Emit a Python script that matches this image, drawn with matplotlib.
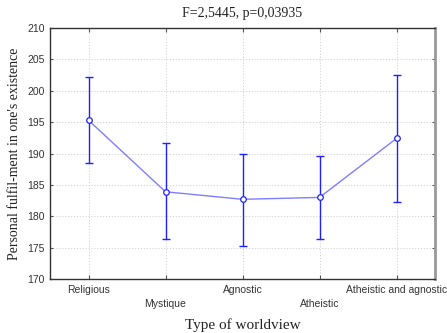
import matplotlib
matplotlib.use("Agg")
import matplotlib.pyplot as plt
import numpy as np

categories = ["Religious", "Mystique", "Agnostic", "Atheistic", "Atheistic and agnostic"]
means = [195.3, 183.9, 182.7, 183.0, 192.4]
upper = [202.2, 191.7, 190.0, 189.6, 202.5]
lower = [188.5, 176.3, 175.2, 176.4, 182.2]
y_ticks = [170, 175, 180, 185, 190, 195, 200, 205, 210]

fig = plt.figure(figsize=(4.47, 3.33), dpi=100)
ax = fig.add_axes([50 / 447, 54 / 333, 385 / 447, 251 / 333])

x = np.arange(len(categories))
means_a = np.array(means)
err = np.vstack([means_a - np.array(lower), np.array(upper) - means_a])

ax.plot(x, means_a, color="#7f7fff", lw=1.0, zorder=3)
ax.errorbar(x, means_a, yerr=err, fmt="none", ecolor="#2020ff",
            elinewidth=1.0, capsize=3, capthick=1.0, zorder=4)
ax.plot(x, means_a, "o", ms=4, mfc="white", mec="#2020ff", mew=0.9, zorder=5)

ax.set_xlim(-0.5, 4.5)
ax.set_ylim(170, 210)
ax.set_yticks(y_ticks)
ax.set_xticks(x)
ax.set_xticklabels([])

tick_font = dict(family="Liberation Sans", size=7.5, color="#333333")
for i, lab in enumerate(categories):
    dy = -0.022 if i % 2 == 0 else -0.078
    ax.text(i, dy, lab, transform=ax.get_xaxis_transform(), ha="center",
            va="top", **tick_font)
ax.set_yticklabels([str(v) for v in y_ticks], **tick_font)

ax.grid(True, color="#d2d2d2", ls=(0, (1.2, 1.8)), lw=0.7)
ax.set_axisbelow(True)
ax.tick_params(direction="in", length=2.5, width=0.8, color="#555555",
               top=True, right=True, pad=4)
ax.tick_params(axis="x", length=3)
for side in ["left", "bottom", "top"]:
    ax.spines[side].set_color("#333333")
    ax.spines[side].set_linewidth(1.0)
ax.spines["right"].set_color("#999999")
ax.spines["right"].set_linewidth(2.0)

ax.set_title("F=2,5445, p=0,03935", family="Liberation Serif", size=10,
             pad=8, color="#222222")
ax.set_xlabel("Type of worldview", family="Liberation Serif", size=11,
              labelpad=24, color="#222222")
ax.set_ylabel("Personal fulfil-ment in one's existence", family="Liberation Serif",
              size=10, labelpad=4, color="#222222")

fig.savefig("out.png", dpi=100)
